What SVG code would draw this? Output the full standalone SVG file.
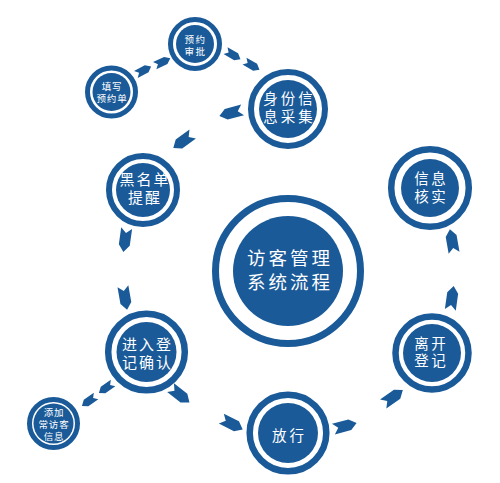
<svg xmlns="http://www.w3.org/2000/svg" width="500" height="483" viewBox="0 0 500 483">
<defs>
<style>
.ring{fill:none;stroke:#1a5a98}
.disc{fill:#1a5a98}
.t{fill:#fff;font-family:"Noto Sans CJK SC","Noto Sans",sans-serif;text-anchor:middle}
.ar{fill:#1a5a98}
</style>
<path id="ar" d="M-12,-5.5 L5,-5.5 L12,0 L5,5.5 L-12,5.5 L-7,0 Z"/>
</defs>
<rect width="500" height="483" fill="#fff"/>
<g id="connectors" class="ar">
<use href="#ar" transform="translate(143.5,70.5) rotate(-28) scale(0.72)"/>
<use href="#ar" transform="translate(162.5,62) rotate(-25) scale(0.72)"/>
<use href="#ar" transform="translate(233,55) rotate(30) scale(0.72)"/>
<use href="#ar" transform="translate(252,65.5) rotate(30) scale(0.72)"/>
<use href="#ar" transform="translate(231,113) rotate(165)"/>
<use href="#ar" transform="translate(183,141) rotate(144)"/>
<use href="#ar" transform="translate(125,240) rotate(98)"/>
<use href="#ar" transform="translate(125,298) rotate(80)"/>
<use href="#ar" transform="translate(180,395) rotate(38)"/>
<use href="#ar" transform="translate(232,424) rotate(27)"/>
<use href="#ar" transform="translate(345,426) rotate(-15)"/>
<use href="#ar" transform="translate(393,397) rotate(-35)"/>
<use href="#ar" transform="translate(452,241) rotate(-100)"/>
<use href="#ar" transform="translate(452,298) rotate(-82)"/>
<use href="#ar" transform="translate(106,388) rotate(145) scale(0.72)"/>
<use href="#ar" transform="translate(89,401) rotate(145) scale(0.72)"/>
</g>
<g id="n-fill">
<circle class="ring" cx="111.5" cy="92" r="24" stroke-width="5"/>
<circle class="disc" cx="111.5" cy="92" r="19"/>
<text class="t" font-size="9.5" letter-spacing="0.8"><tspan x="112" y="90">填写</tspan><tspan x="112" y="101.8">预约单</tspan></text>
</g>
<g id="n-approve">
<circle class="ring" cx="195" cy="44" r="24.5" stroke-width="5"/>
<circle class="disc" cx="195" cy="44" r="19"/>
<text class="t" font-size="9.5" letter-spacing="1.5"><tspan x="195.5" y="42.5">预约</tspan><tspan x="195.5" y="54.5">审批</tspan></text>
</g>
<g id="n-id">
<circle class="ring" cx="288" cy="109" r="37" stroke-width="6"/>
<circle class="disc" cx="288" cy="109" r="29"/>
<text class="t" font-size="14.5" letter-spacing="3"><tspan x="289.5" y="104">身份信</tspan><tspan x="289.5" y="122">息采集</tspan></text>
</g>
<g id="n-black">
<circle class="ring" cx="143" cy="190" r="34" stroke-width="6"/>
<circle class="disc" cx="143" cy="190" r="27"/>
<text class="t" font-size="15" letter-spacing="2"><tspan x="145" y="184.5">黑名单</tspan><tspan x="145" y="203">提醒</tspan></text>
</g>
<g id="n-center">
<circle class="ring" cx="288" cy="271" r="72.5" stroke-width="7"/>
<circle class="disc" cx="288" cy="271" r="55"/>
<text class="t" font-size="18.5" letter-spacing="3"><tspan x="290" y="265">访客管理</tspan><tspan x="290" y="289">系统流程</tspan></text>
</g>
<g id="n-verify">
<circle class="ring" cx="430" cy="188" r="38.8" stroke-width="6.5"/>
<circle class="disc" cx="430" cy="188" r="29"/>
<text class="t" font-size="14.5" letter-spacing="2.5"><tspan x="431.2" y="183.5">信息</tspan><tspan x="431.2" y="202">核实</tspan></text>
</g>
<g id="n-leave">
<circle class="ring" cx="432" cy="353" r="36.5" stroke-width="6.5"/>
<circle class="disc" cx="432" cy="353" r="29"/>
<text class="t" font-size="14.5" letter-spacing="2.5"><tspan x="431.2" y="348.5">离开</tspan><tspan x="431.2" y="366">登记</tspan></text>
</g>
<g id="n-release">
<circle class="ring" cx="288" cy="433" r="38.3" stroke-width="6.5"/>
<circle class="disc" cx="288" cy="433" r="30"/>
<text class="t" font-size="14.5" letter-spacing="3" x="289.5" y="440.5">放行</text>
</g>
<g id="n-enter">
<circle class="ring" cx="146.5" cy="352" r="38.3" stroke-width="6.5"/>
<circle class="disc" cx="146.5" cy="352" r="30"/>
<text class="t" font-size="15" letter-spacing="2"><tspan x="147.5" y="349.5">进入登</tspan><tspan x="147.5" y="368">记确认</tspan></text>
</g>
<g id="n-add">
<circle class="ring" cx="53.5" cy="423.5" r="24" stroke-width="5"/>
<circle class="disc" cx="53.5" cy="423.5" r="20"/>
<text class="t" font-size="9.5" letter-spacing="0.8"><tspan x="54" y="415.5">添加</tspan><tspan x="54" y="427.5">常访客</tspan><tspan x="54" y="439.5">信息</tspan></text>
</g>
</svg>
